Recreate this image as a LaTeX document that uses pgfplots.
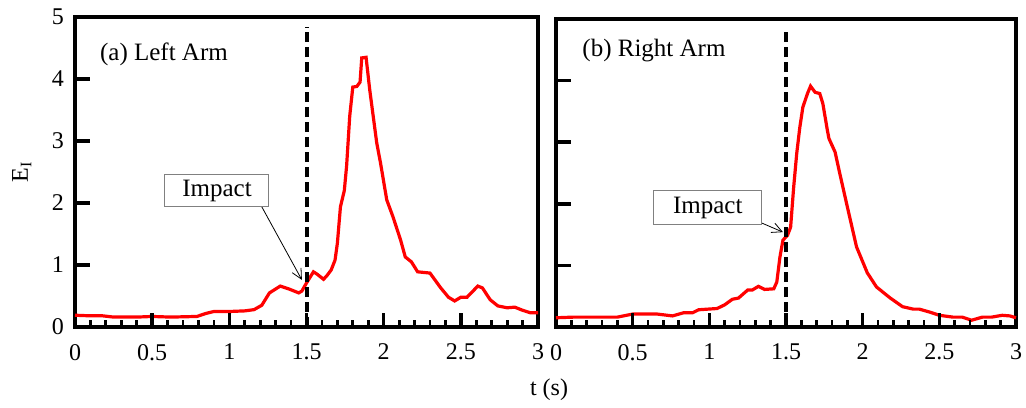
\documentclass[border=0pt]{standalone}
\usepackage{fontspec}
\setmainfont{Liberation Serif}
\usepackage{pgfplots}
\pgfplotsset{compat=1.18}
\usetikzlibrary{arrows.meta}
\definecolor{curvered}{RGB}{255,0,0}

\pgfplotstableread{
t E
0.00 0.19
0.10 0.18
0.18 0.18
0.25 0.16
0.40 0.16
0.50 0.17
0.62 0.16
0.79 0.17
0.85 0.22
0.90 0.25
1.00 0.25
1.10 0.26
1.16 0.28
1.21 0.35
1.26 0.55
1.33 0.66
1.39 0.61
1.45 0.55
1.47 0.58
1.50 0.71
1.545 0.89
1.57 0.85
1.61 0.77
1.63 0.82
1.66 0.92
1.685 1.08
1.70 1.35
1.72 1.94
1.745 2.20
1.76 2.60
1.78 3.40
1.80 3.87
1.826 3.88
1.847 3.95
1.858 4.34
1.886 4.35
1.91 3.82
1.955 2.97
1.98 2.64
2.02 2.05
2.06 1.78
2.11 1.40
2.14 1.13
2.18 1.05
2.22 0.89
2.30 0.87
2.37 0.63
2.42 0.48
2.46 0.42
2.50 0.48
2.54 0.48
2.61 0.66
2.64 0.63
2.69 0.44
2.74 0.34
2.80 0.31
2.85 0.32
2.90 0.27
2.95 0.23
3.00 0.23
}\lefttable

\pgfplotstableread{
t E
0.00 0.15
0.11 0.16
0.31 0.16
0.40 0.16
0.50 0.21
0.66 0.21
0.76 0.18
0.83 0.23
0.89 0.23
0.93 0.28
1.05 0.30
1.10 0.36
1.15 0.45
1.19 0.47
1.25 0.60
1.28 0.60
1.32 0.66
1.36 0.61
1.42 0.62
1.44 0.73
1.46 1.13
1.48 1.41
1.51 1.49
1.53 1.62
1.55 2.27
1.57 2.82
1.59 3.24
1.61 3.57
1.64 3.79
1.66 3.91
1.69 3.81
1.72 3.79
1.74 3.63
1.77 3.19
1.78 3.06
1.82 2.84
1.85 2.50
1.90 1.95
1.96 1.30
2.03 0.88
2.09 0.65
2.18 0.47
2.26 0.33
2.33 0.29
2.37 0.29
2.44 0.24
2.50 0.19
2.59 0.16
2.65 0.16
2.71 0.11
2.78 0.16
2.84 0.16
2.91 0.19
2.96 0.18
3.00 0.15
}\righttable

\pgfplotsset{
  panel/.style={
    scale only axis,
    anchor=south west,
    xmin=0, xmax=3, ymin=0, ymax=5,
    xtick={0,0.5,1,1.5,2,2.5,3},
    xticklabels={0,0.5,1,1.5,2,2.5,3},
    minor x tick num=4,
    ytick={0,1,2,3,4,5},
    tick pos=left,
    tick align=inside,
    major tick length=7pt,
    minor tick length=3.5pt,
    tick style={black, line width=1.8pt},
    minor tick style={line width=1.4pt},
    axis line style={line width=1.6pt},
    tick label style={font=\fontsize{12}{14}\selectfont},
    /pgf/number format/assume math mode=true,
    xticklabel style={yshift=-5pt},
    yticklabel style={xshift=-2pt},
    clip=false,
  },
}

\begin{document}
\begin{tikzpicture}
\path[use as bounding box] (0pt,0pt) rectangle (513pt,-203.5pt);
\begin{axis}[panel, at={(37.5pt,-163.5pt)}, width=231.5pt, height=155pt,
  ylabel={E\textsubscript{I}},
  ylabel style={font=\fontsize{12}{14}\selectfont, at={(axis description cs:-0.115,0.5)}, anchor=center, rotate=0}]
  \addplot[curvered, line width=1.6pt] table[x=t, y=E] {\lefttable};
  \pgfplotsinvokeforeach{0.5,1,1.5,2,2.5}{
    \draw[black, line width=1.8pt] (axis cs:#1,0) -- (axis cs:#1,0.23);}
  \pgfplotsinvokeforeach{0.1,0.2,0.3,0.4,0.6,0.7,0.8,0.9,1.1,1.2,1.3,1.4,1.6,1.7,1.8,1.9,2.1,2.2,2.3,2.4,2.6,2.7,2.8,2.9}{
    \draw[black, line width=1.4pt] (axis cs:#1,0) -- (axis cs:#1,0.12);}
  \pgfplotsinvokeforeach{1,2,3,4}{
    \draw[black, line width=1.8pt] (axis cs:0,#1) -- (axis cs:0.095,#1);}
  \draw[line width=2pt, dash pattern=on 5pt off 2.5pt] (axis cs:1.5,0) -- (axis cs:1.5,4.84);
  \node[anchor=west, font=\fontsize{12.5}{14}\selectfont, inner sep=0pt] at (axis cs:0.16,4.39) {(a) Left Arm};
  \draw[line width=0.4pt, -{Straight Barb[length=5pt,width=5pt]}] (axis cs:1.21,1.94) -- (axis cs:1.47,0.76);
  \node[draw=gray, line width=0.5pt, fill=white, minimum width=52pt, minimum height=16pt, inner sep=0pt, font=\fontsize{12.5}{14}\selectfont] at (axis cs:0.92,2.2) {Impact};
\end{axis}
\begin{axis}[panel, at={(278pt,-163.5pt)}, width=230pt, height=154pt,
  yticklabels={}]
  \addplot[curvered, line width=1.6pt] table[x=t, y=E] {\righttable};
  \pgfplotsinvokeforeach{0.5,1,1.5,2,2.5}{
    \draw[black, line width=1.8pt] (axis cs:#1,0) -- (axis cs:#1,0.23);}
  \pgfplotsinvokeforeach{0.1,0.2,0.3,0.4,0.6,0.7,0.8,0.9,1.1,1.2,1.3,1.4,1.6,1.7,1.8,1.9,2.1,2.2,2.3,2.4,2.6,2.7,2.8,2.9}{
    \draw[black, line width=1.4pt] (axis cs:#1,0) -- (axis cs:#1,0.12);}
  \pgfplotsinvokeforeach{1,2,3,4}{
    \draw[black, line width=1.8pt] (axis cs:0,#1) -- (axis cs:0.095,#1);}
  \draw[line width=2pt, dash pattern=on 5pt off 2.5pt] (axis cs:1.5,0) -- (axis cs:1.5,4.83);
  \node[anchor=west, font=\fontsize{12.5}{14}\selectfont, inner sep=0pt] at (axis cs:0.17,4.49) {(b) Right Arm};
  \draw[line width=0.4pt, -{Straight Barb[length=5pt,width=5pt]}] (axis cs:1.34,1.69) -- (axis cs:1.48,1.54);
  \node[draw=gray, line width=0.5pt, fill=white, minimum width=54pt, minimum height=17pt, inner sep=0pt, font=\fontsize{12.5}{14}\selectfont] at (axis cs:0.99,1.94) {Impact};
\end{axis}
\node[font=\fontsize{12}{14}\selectfont] at (274.5pt,-195pt) {t (s)};
\end{tikzpicture}
\end{document}
